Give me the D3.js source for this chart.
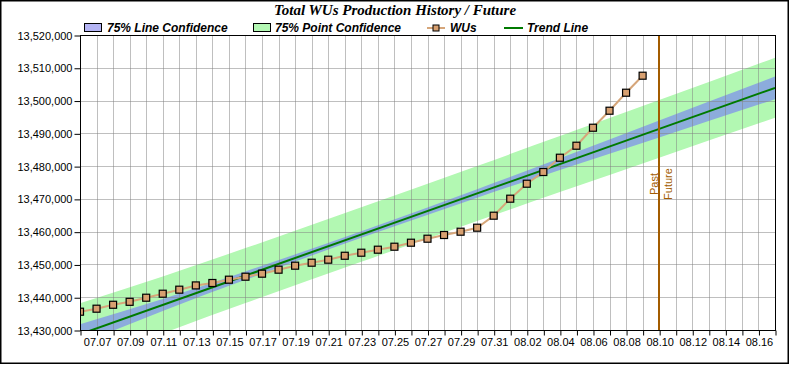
<!DOCTYPE html>
<html>
<head>
<meta charset="utf-8">
<script src="https://cdn.jsdelivr.net/npm/d3@7"></script>
<style>
  body { margin: 0; background: #fff; }
  svg { display: block; font-family: Arial, "Liberation Sans", sans-serif; }
  .axis text { font-size: 11px; fill: #000; }
  .axis path, .axis line { stroke: #000; }
  .legend text { font-size: 12px; font-weight: bold; font-style: italic; }
</style>
</head>
<body>
<div class="chartWrap"></div>
<script>
//Data
const wuDays = ["07.06","07.07","07.08","07.09","07.10","07.11","07.12","07.13","07.14","07.15",
  "07.16","07.17","07.18","07.19","07.20","07.21","07.22","07.23","07.24","07.25",
  "07.26","07.27","07.28","07.29","07.30","07.31","08.01","08.02","08.03","08.04",
  "08.05","08.06","08.07","08.08","08.09"];
const wuValues = [13435580,13436500,13437700,13438600,13439850,13441070,13442300,13443600,13444340,13445350,
  13446260,13447180,13448400,13449620,13450530,13451450,13452650,13453580,13454500,13455410,
  13456630,13457850,13458980,13459990,13461210,13464870,13470060,13474630,13478200,13482560,
  13486220,13491710,13496900,13502390,13507580];
const trendDays = ["07.06","08.17"];
const trendValues = [13428700,13503880];
const bandDays = ["07.06","07.11","07.16","07.23","07.30","08.04","08.10","08.17"];
const lineConfHigh = [13431750,13439480,13447880,13460140,13472940,13482380,13493940,13507330];
const lineConfLow  = [13425650,13435820,13445320,13458120,13470380,13478840,13488760,13500430];
const pointConfHigh = [13438160,13446350,13454990,13467460,13480050,13489150,13500140,13513030];
const pointConfLow  = [13419240,13428950,13438210,13450800,13463270,13472070,13482560,13494730];
const xStart = "07.06", xEnd = "08.17", splitDay = "08.10";
const yTicks = [13430000,13440000,13450000,13460000,13470000,13480000,13490000,13500000,13510000,13520000];

const w = 790, h = 365;
const plot = {left: 80, right: 775, top: 35, bottom: 330};
const parse = d3.timeParse("%m.%d");
const fmtDay = d3.timeFormat("%m.%d");

let svg = d3.select(".chartWrap").append("svg").attr("width", w).attr("height", h);

//Scales
let x = d3.scaleTime().domain([parse(xStart), parse(xEnd)]).range([plot.left, plot.right]);
let y = d3.scaleLinear().domain([yTicks[0], yTicks[yTicks.length - 1]]).range([plot.bottom, plot.top]);
let allDays = d3.timeDay.range(parse(xStart), d3.timeDay.offset(parse(xEnd), 1));

svg.append("defs").append("clipPath").attr("id", "plotClip")
  .append("rect").attr("x", plot.left).attr("y", plot.top)
  .attr("width", plot.right - plot.left).attr("height", plot.bottom - plot.top);

//Outer frame
svg.append("rect").attr("x", 0.75).attr("y", 0.75).attr("width", 787.5).attr("height", 362.5)
  .attr("fill", "#fff").attr("stroke", "#000").attr("stroke-width", 1.5);

let inner = svg.append("g").attr("clip-path", "url(#plotClip)");

//Confidence bands
let band = (lo, hi) => d3.area()
  .x((d, i) => x(parse(bandDays[i])))
  .y0((d, i) => y(lo[i]))
  .y1((d, i) => y(hi[i]))
  .curve(d3.curveMonotoneX)(bandDays);
inner.append("path").attr("d", band(pointConfLow, pointConfHigh)).attr("fill", "#b2f8b2");
inner.append("path").attr("d", band(lineConfLow, lineConfHigh)).attr("fill", "#8cacdc");

//Grid on top of the bands
inner.append("g").selectAll("line").data(allDays).enter().append("line")
  .attr("x1", d => Math.round(x(d)) + 0.5).attr("x2", d => Math.round(x(d)) + 0.5)
  .attr("y1", plot.top).attr("y2", plot.bottom)
  .attr("stroke", "#808080").attr("stroke-opacity", 0.5);
inner.append("g").selectAll("line").data(yTicks).enter().append("line")
  .attr("x1", plot.left).attr("x2", plot.right)
  .attr("y1", d => Math.round(y(d)) + 0.5).attr("y2", d => Math.round(y(d)) + 0.5)
  .attr("stroke", "#808080").attr("stroke-opacity", 0.5);

//Trend line
inner.append("path")
  .attr("d", d3.line().x((d, i) => x(parse(d))).y((d, i) => y(trendValues[i]))(trendDays))
  .attr("fill", "none").attr("stroke", "#007a00").attr("stroke-width", 2);

//WUs line and markers
inner.append("path")
  .attr("d", d3.line().x(d => x(parse(d))).y((d, i) => y(wuValues[i]))(wuDays))
  .attr("fill", "none").attr("stroke", "#d6a67a").attr("stroke-width", 2);
inner.append("g").selectAll("rect").data(wuDays).enter().append("rect")
  .attr("x", d => x(parse(d)) - 3.5).attr("y", (d, i) => y(wuValues[i]) - 3.5)
  .attr("width", 7).attr("height", 7)
  .attr("fill", "#d8a070").attr("stroke", "#000").attr("stroke-width", 1.2);

//Past / Future split
let sx = Math.round(x(parse(splitDay)));
svg.append("line").attr("x1", sx).attr("x2", sx).attr("y1", plot.top).attr("y2", plot.bottom)
  .attr("stroke", "#a35c00").attr("stroke-width", 2);
svg.append("text").text("Past").attr("transform", "translate(" + (sx - 1) + ",184) rotate(-90)")
  .attr("text-anchor", "middle").attr("font-size", 11).attr("fill", "#a35c00");
svg.append("text").text("Future").attr("transform", "translate(" + (sx + 13) + ",184) rotate(-90)")
  .attr("text-anchor", "middle").attr("font-size", 11).attr("fill", "#a35c00");

//Axes
let xAxis = d3.axisBottom(x).tickValues(allDays).tickSize(5).tickPadding(3)
  .tickFormat((d, i) => i % 2 === 1 ? fmtDay(d) : "");
svg.append("g").attr("class", "axis").attr("transform", "translate(0.5," + (plot.bottom + 0.5) + ")")
  .call(xAxis).call(g => g.select(".domain").remove());
let yAxis = d3.axisLeft(y).tickValues(yTicks).tickSize(6).tickPadding(2).tickFormat(d3.format(","));
svg.append("g").attr("class", "axis").attr("transform", "translate(" + (plot.left + 0.5) + ",0.5)")
  .call(yAxis).call(g => g.select(".domain").remove());

//Plot frame
svg.append("rect").attr("x", plot.left + 0.5).attr("y", plot.top + 0.5)
  .attr("width", plot.right - plot.left).attr("height", plot.bottom - plot.top)
  .attr("fill", "none").attr("stroke", "#000").attr("stroke-width", 1);

//Title
svg.append("text").text("Total WUs Production History / Future")
  .attr("x", 395).attr("y", 15).attr("text-anchor", "middle")
  .attr("font-family", "'Liberation Serif', 'Times New Roman', serif")
  .attr("font-size", 15).attr("font-weight", "bold").attr("font-style", "italic");

//Legend
let legend = svg.append("g").attr("class", "legend");
legend.append("rect").attr("x", 84.5).attr("y", 23.5).attr("width", 17).attr("height", 8)
  .attr("fill", "#b4b4f4").attr("stroke", "#000");
legend.append("text").text("75% Line Confidence").attr("x", 107).attr("y", 32);
legend.append("rect").attr("x", 253.5).attr("y", 23.5).attr("width", 17).attr("height", 8)
  .attr("fill", "#b4f8b4").attr("stroke", "#000");
legend.append("text").text("75% Point Confidence").attr("x", 275).attr("y", 32);
legend.append("line").attr("x1", 427).attr("x2", 445).attr("y1", 28).attr("y2", 28)
  .attr("stroke", "#d6a67a").attr("stroke-width", 2);
legend.append("rect").attr("x", 433).attr("y", 25).attr("width", 6).attr("height", 6)
  .attr("fill", "#d8a070").attr("stroke", "#000").attr("stroke-width", 1);
legend.append("text").text("WUs").attr("x", 450).attr("y", 32);
legend.append("line").attr("x1", 504).attr("x2", 523).attr("y1", 28).attr("y2", 28)
  .attr("stroke", "#007a00").attr("stroke-width", 2);
legend.append("text").text("Trend Line").attr("x", 527).attr("y", 32);
</script>
</body>
</html>
